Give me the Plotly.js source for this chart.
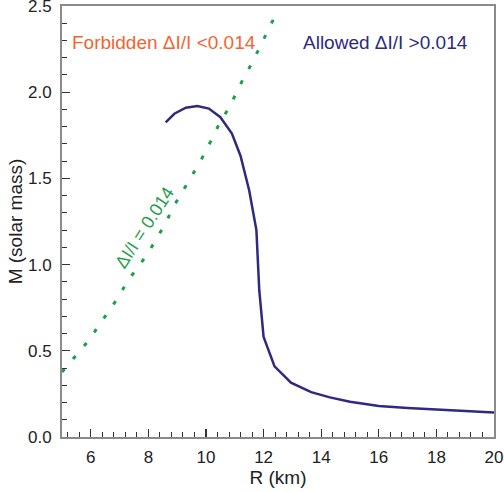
<!DOCTYPE html>
<html>
<head>
<meta charset="utf-8">
<script src="https://cdn.plot.ly/plotly-3.0.1.min.js"></script>
<style>
html,body{margin:0;padding:0;background:#fff;}
#chart{width:504px;height:492px;}
</style>
</head>
<body>
<div id="chart"></div>
<script>
// Mass-radius curve (allowed region boundary)
var curveR = [8.6, 8.9, 9.3, 9.7, 10.1, 10.5, 10.9, 11.2, 11.5, 11.75, 11.85, 12.0, 12.38, 12.95, 13.65, 14.3, 15.0, 16.0, 17.0, 18.0, 19.0, 20.0];
var curveM = [1.825, 1.875, 1.91, 1.92, 1.905, 1.855, 1.76, 1.63, 1.43, 1.20, 0.85, 0.58, 0.41, 0.315, 0.26, 0.23, 0.205, 0.18, 0.168, 0.158, 0.15, 0.142];

// Constraint line dI/I = 0.014
var limitR = [5.0, 5.55, 6.0, 6.3, 6.65, 7.0, 7.3, 7.65, 8.0, 8.3, 8.6, 8.85, 9.15, 9.45, 9.75, 10.0, 10.25, 10.5, 10.8, 11.05, 11.3, 11.6, 11.85, 12.1, 12.45];
var limitM = [0.377, 0.486, 0.574, 0.655, 0.733, 0.824, 0.91, 0.988, 1.07, 1.156, 1.24, 1.33, 1.413, 1.50, 1.583, 1.66, 1.746, 1.83, 1.91, 2.0, 2.08, 2.17, 2.26, 2.34, 2.46];

var xTickVals = [6, 8, 10, 12, 14, 16, 18, 20];
var yTickVals = [0.0, 0.5, 1.0, 1.5, 2.0, 2.5];
var yTickText = ["0.0", "0.5", "1.0", "1.5", "2.0", "2.5"];

var traces = [
  {x: limitR, y: limitM, mode: 'lines', type: 'scatter',
   line: {color: '#1f9e4c', width: 3, dash: '4px,13px'}, hoverinfo: 'none'},
  {x: curveR, y: curveM, mode: 'lines', type: 'scatter',
   line: {color: '#2e2a80', width: 2.5}, hoverinfo: 'none'}
];

var fontFam = 'Liberation Sans, Arial, sans-serif';
var layout = {
  width: 504, height: 492,
  margin: {l: 62, r: 10, t: 6, b: 55},
  paper_bgcolor: '#fff', plot_bgcolor: '#fff',
  showlegend: false,
  font: {family: fontFam, size: 17, color: '#222'},
  xaxis: {
    range: [5, 20], showgrid: false, zeroline: false,
    tickvals: xTickVals, ticks: 'inside', ticklen: 8, tickwidth: 1.2, tickcolor: '#333',
    minor: {dtick: 0.4, tick0: 0, ticks: 'inside', ticklen: 5, tickwidth: 1, tickcolor: '#333', showgrid: false},
    showline: true, linecolor: '#8a8a8a', linewidth: 2, mirror: true,
    tickfont: {family: fontFam, size: 17, color: '#222'},
    ticklabelstandoff: 4,
    title: {text: 'R (km)', font: {family: fontFam, size: 19, color: '#222'}, standoff: 4}
  },
  yaxis: {
    range: [0, 2.5], showgrid: false, zeroline: false,
    tickvals: yTickVals, ticktext: yTickText, ticks: 'inside', ticklen: 8, tickwidth: 1.2, tickcolor: '#333',
    minor: {dtick: 0.1, ticks: 'inside', ticklen: 5, tickwidth: 1, tickcolor: '#333', showgrid: false},
    showline: true, linecolor: '#8a8a8a', linewidth: 2, mirror: true,
    tickfont: {family: fontFam, size: 17, color: '#222'},
    ticklabeloverflow: 'allow',
    ticklabelstandoff: 5,
    title: {text: 'M (solar mass)', font: {family: fontFam, size: 19, color: '#222'}, standoff: 0}
  },
  annotations: [
    {x: 8.54, y: 2.29, xref: 'x', yref: 'y', text: 'Forbidden ΔI/I <0.014', showarrow: false,
     font: {family: fontFam, size: 19, color: '#f26430'}},
    {x: 16.23, y: 2.29, xref: 'x', yref: 'y', text: 'Allowed ΔI/I >0.014', showarrow: false,
     font: {family: fontFam, size: 19, color: '#2e2a80'}},
    {x: 7.88, y: 1.218, xref: 'x', yref: 'y', text: 'ΔI/I = 0.014', showarrow: false, textangle: -57,
     font: {family: fontFam, size: 18, color: '#1f9e4c'}}
  ]
};

Plotly.newPlot('chart', traces, layout, {staticPlot: true, displayModeBar: false});
</script>
</body>
</html>
